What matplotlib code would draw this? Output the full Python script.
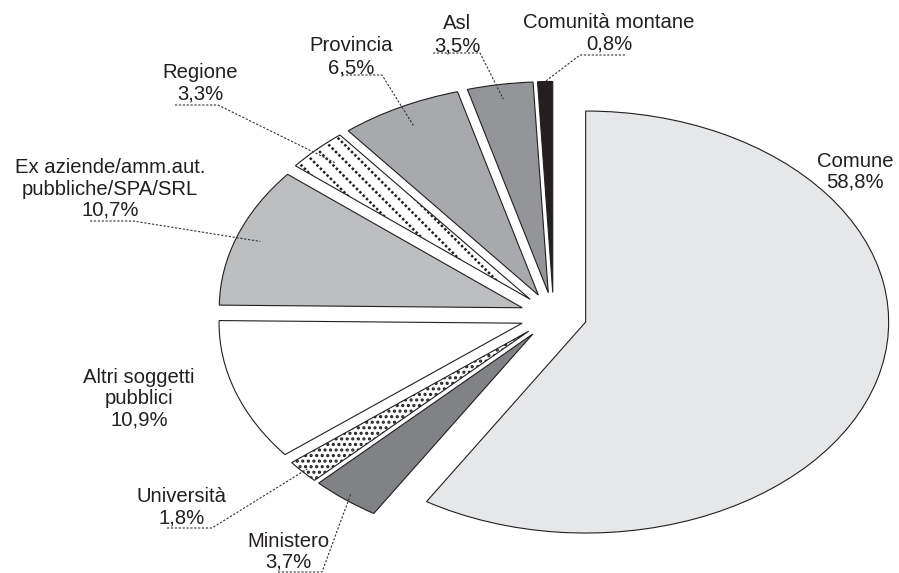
import matplotlib.pyplot as plt
import numpy as np

# data (clockwise from 12 o'clock)
labels = ['Comune', 'Ministero', 'Università', 'Altri soggetti\npubblici',
          'Ex aziende/amm.aut.\npubbliche/SPA/SRL', 'Regione', 'Provincia',
          'Asl', 'Comunità montane']
shares = [58.8, 3.7, 1.8, 10.9, 10.7, 3.3, 6.5, 3.5, 0.8]
pct_text = ['58,8%', '3,7%', '1,8%', '10,9%', '10,7%', '3,3%', '6,5%', '3,5%', '0,8%']

colors = ['#e6e7e8', '#808285', 'white', 'white', '#bcbec0', 'white',
          '#a7a9ac', '#939598', '#231f20']
hatches = [None, None, '...', None, None, None, None, None, None]
striped = 5  # Regione gets dotted diagonal stripes

plt.rcParams['font.family'] = ['Liberation Sans', 'DejaVu Sans']
plt.rcParams['hatch.linewidth'] = 1.5
plt.rcParams['hatch.color'] = '#231f20'

W, H = 899, 573
# pie centre and radii in pixels (the pie is stretched into an ellipse)
CX, CY, RX, RY = 553.6, 315.7, 303, 211


def to_data(px, py):
    return (px - CX) / RX, (CY - py) / RY


fig = plt.figure(figsize=(W / 100, H / 100), dpi=100)
ax = fig.add_axes([0, 0, 1, 1])
wedges, _ = ax.pie(shares, startangle=90, counterclock=False,
                   explode=[0.11] * len(shares), colors=colors,
                   wedgeprops=dict(edgecolor='#231f20', linewidth=0.8))
for w, h in zip(wedges, hatches):
    if h:
        w.set_hatch(h)
ax.set_aspect('auto')
ax.set_xlim(-CX / RX, (W - CX) / RX)
ax.set_ylim(-(H - CY) / RY, CY / RY)
ax.axis('off')

# dotted 45 degree stripes, clipped to the Regione wedge
for c in np.arange(-600, 900, 16):
    xa, ya = to_data(c, 0)
    xb, yb = to_data(c + 600, 600)
    ln, = ax.plot([xa, xb], [ya, yb], color='#231f20', linewidth=1.8,
                  linestyle=(0, (1, 0.9)))
    ln.set_clip_path(wedges[striped])

# label layout: centre x, baselines (px), leader (x start, x elbow, y), anchor radius
layout = [
    (855, [167, 188], None, None),
    (288, [547, 568], (278, 322, 572), 0.97),
    (182, [502, 523], (167, 212, 528), 0.98),
    (139, [383, 404, 425], None, None),
    (110, [173, 195, 216], (90, 133, 221), 0.92),
    (200, [78, 100], (175, 218, 105), 0.91),
    (351, [51, 74], (342, 382, 75), 0.90),
    (457, [29, 51], (433, 480, 53), 0.93),
    (609, [28, 50], (625, 580, 55), 1.00),
]

txt_color = '#231f20'
for w, lab, pct, (lx, ys, lead, rf) in zip(wedges, labels, pct_text, layout):
    lines = lab.split('\n') + [pct]
    for line, by in zip(lines, ys):
        x, y = to_data(lx, by)
        ax.text(x, y, line, ha='center', va='baseline', fontsize=14.6,
                color=txt_color)
    if lead is None:
        continue
    x0, x1, ly = lead
    mid = np.deg2rad((w.theta1 + w.theta2) / 2)
    cx, cy = w.center
    ax_, ay_ = cx + rf * np.cos(mid), cy + rf * np.sin(mid)
    p0 = to_data(x0, ly)
    p1 = to_data(x1, ly)
    ax.plot([p0[0], p1[0], ax_], [p0[1], p1[1], ay_], color='#333333',
            linewidth=0.8, linestyle=(0, (2, 1.5)))

fig.savefig('out.png', dpi=100)
